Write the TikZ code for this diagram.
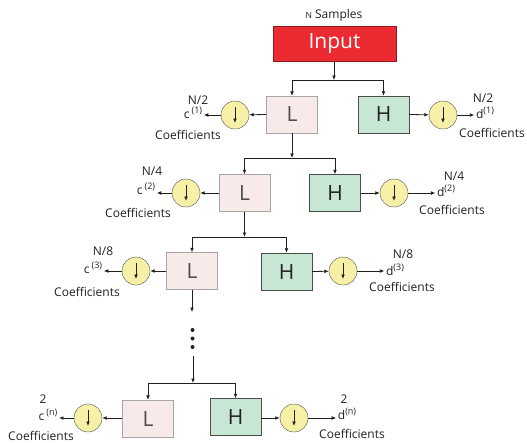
\documentclass[tikz,border=0pt]{standalone}
\usepackage{fontspec}
\setmainfont{Open Sans}
\usetikzlibrary{arrows.meta}
\definecolor{inred}{HTML}{EC2A32}
\definecolor{inredline}{HTML}{8E1B1F}
\definecolor{lpink}{HTML}{F9EAEA}
\definecolor{hgreen}{HTML}{C8E6D4}
\definecolor{dsyellow}{HTML}{F6F1A6}
\definecolor{ink}{HTML}{231F20}
\newcommand{\supidx}[1]{\raisebox{4.5pt}{\fontsize{9}{9}\selectfont(#1)}}
\begin{document}
\begin{tikzpicture}[x=1pt,y=-1pt,
  bigtxt/.style={font=\fontsize{21}{21}\selectfont},
  lbox/.style={draw=black!35, fill=lpink, minimum width=51pt, minimum height=37pt, inner sep=0pt, bigtxt, text=black!70},
  hbox/.style={draw=black!70, fill=hgreen, minimum width=51pt, minimum height=37pt, inner sep=0pt, bigtxt, text=ink},
  ds/.style={circle, draw=black!70, fill=dsyellow, minimum size=28pt, inner sep=0pt},
  arr/.style={-{Latex[length=4.5pt,width=3.8pt]}, draw=ink, line width=0.8pt},
  ln/.style={draw=ink, line width=0.8pt},
  lab/.style={font=\fontsize{12}{14}\selectfont, inner sep=0pt, text=ink},
  sup/.style={lab, inner sep=1.5pt}
]
\useasboundingbox (0,0) rectangle (527,442);

% input
\node[lab] (ns) at (334,15) {{\fontsize{8.5}{8.5}\selectfont N} Samples};
\node[draw=inredline, fill=inred, minimum width=123pt, minimum height=35pt, inner sep=0pt, bigtxt, text=white] (in) at (334.5,43.5) {Input};

% level 1
\node[lbox] (L1) at (292,114.5) {L};
\node[hbox] (H1) at (383.5,114.5) {H};
\coordinate (j1) at (334,80);
\draw[arr] (in.south -| j1) -- (j1);
\draw[ln] (j1 -| L1) -- (j1 -| H1);
\draw[arr] (j1 -| L1) -- (L1.north);
\draw[arr] (j1 -| H1) -- (H1.north);
\node[ds] (d1L) at (235,115) {};
\node[ds] (d1R) at (443,115) {};
\node[lab] (n1L) at (198,100) {N/2};
\node[sup] (c1) at (193,113) {c\,\supidx{1}};
\node[lab] (k1L) at (188,135) {Coefficients};
\node[lab] (n1R) at (483,98) {N/2};
\node[sup] (e1) at (485,113) {d\supidx{1}};
\node[lab] (k1R) at (492,133) {Coefficients};
\draw[arr] (L1.west) -- (d1L);
\draw[arr] (d1L) -- (d1L -| c1.east);
\draw[arr] (H1.east) -- (d1R);
\draw[arr] (d1R) -- (d1R -| e1.west);

% level 2
\node[lbox] (L2) at (244.5,193) {L};
\node[hbox] (H2) at (335,193) {H};
\coordinate (j2) at (292,158);
\draw[arr] (L1.south) -- (j2);
\draw[ln] (j2 -| L2) -- (j2 -| H2);
\draw[arr] (j2 -| L2) -- (L2.north);
\draw[arr] (j2 -| H2) -- (H2.north);
\node[ds] (d2L) at (186,193) {};
\node[ds] (d2R) at (394,193) {};
\node[lab] (n2L) at (152,171) {N/4};
\node[sup] (c2) at (146,189) {c\,\supidx{2}};
\node[lab] (k2L) at (138,213) {Coefficients};
\node[lab] (n2R) at (454,176) {N/4};
\node[sup] (e2) at (446,191) {d\supidx{2}};
\node[lab] (k2R) at (452,210) {Coefficients};
\draw[arr] (L2.west) -- (d2L);
\draw[arr] (d2L) -- (d2L -| c2.east);
\draw[arr] (H2.east) -- (d2R);
\draw[arr] (d2R) -- (d2R -| e2.west);

% level 3
\node[lbox] (L3) at (192,271) {L};
\node[hbox] (H3) at (286.5,271.5) {H};
\coordinate (j3) at (244.5,237);
\draw[arr] (L2.south) -- (j3);
\draw[ln] (j3 -| L3) -- (j3 -| H3);
\draw[arr] (j3 -| L3) -- (L3.north);
\draw[arr] (j3 -| H3) -- (H3.north);
\node[ds] (d3L) at (136,271) {};
\node[ds] (d3R) at (343,271) {};
\node[lab] (n3L) at (103,251) {N/8};
\node[sup] (c3) at (93,268) {c\,\supidx{3}};
\node[lab] (k3L) at (87,292) {Coefficients};
\node[lab] (n3R) at (403,254) {N/8};
\node[sup] (e3) at (395,270) {d\supidx{3}};
\node[lab] (k3R) at (402,287) {Coefficients};
\draw[arr] (L3.west) -- (d3L);
\draw[arr] (d3L) -- (d3L -| c3.east);
\draw[arr] (H3.east) -- (d3R);
\draw[arr] (d3R) -- (d3R -| e3.west);

% dots
\coordinate (v3) at (192,312);
\draw[arr] (L3.south) -- (v3);
\foreach \yy in {330,338.5,347} \fill[ink] (192.5,\yy) circle (2pt);
\coordinate (v4) at (193,356);

% level n
\node[lbox] (L4) at (148,418.5) {L};
\node[hbox] (H4) at (235.5,417) {H};
\coordinate (j4) at (193,383);
\draw[arr] (v4) -- (j4);
\draw[ln] (j4 -| L4) -- (j4 -| H4);
\draw[arr] (j4 -| L4) -- (L4.north);
\draw[arr] (j4 -| H4) -- (H4.north);
\node[ds] (d4L) at (88,418) {};
\node[ds] (d4R) at (294,418) {};
\node[lab] (n4L) at (43,399) {2};
\node[sup] (c4) at (48,415) {c\,\supidx{n}};
\node[lab] (k4L) at (41,435.5) {Coefficients};
\node[lab] (n4R) at (344,399) {2};
\node[sup] (e4) at (347,414) {d\supidx{n}};
\node[lab] (k4R) at (352,434) {Coefficients};
\draw[arr] (L4.west |- d4L) -- (d4L);
\draw[arr] (d4L) -- (d4L -| c4.east);
\draw[arr] (H4.east |- d4R) -- (d4R);
\draw[arr] (d4R) -- (d4R -| e4.west);

% down-sampling arrows inside circles
\foreach \c in {d1L,d1R,d2L,d2R,d3L,d3R,d4L,d4R}
  \draw[arr] ([yshift=8pt]\c.center) -- ([yshift=-8pt]\c.center);
\end{tikzpicture}
\end{document}
